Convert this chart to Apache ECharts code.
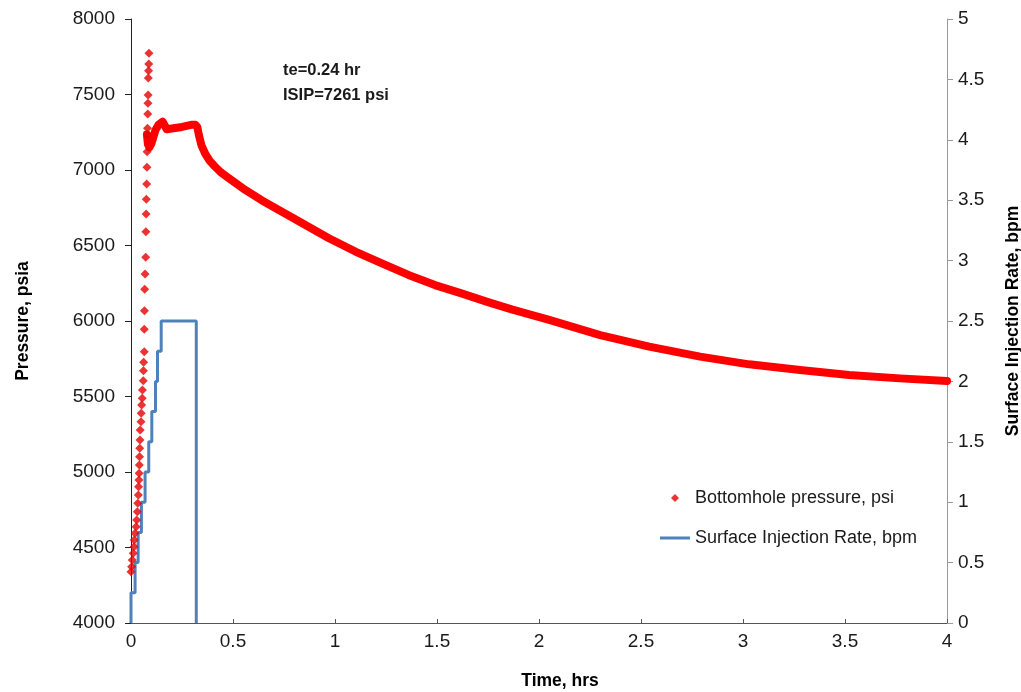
<!DOCTYPE html>
<html>
<head>
<meta charset="utf-8">
<title>Bottomhole pressure and surface injection rate</title>
<script src="https://cdn.jsdelivr.net/npm/echarts@6/dist/echarts.min.js"></script>
<style>
  html, body { margin: 0; padding: 0; background: #ffffff; overflow: hidden; }
  #chart { width: 1021px; height: 692px; }
</style>
</head>
<body>
<div id="chart"></div>
<script>
// Injection period: individual bottomhole pressure readings (hr, psi)
const rampTime = [0.000, 0.003, 0.006, 0.011, 0.015, 0.016, 0.020, 0.025, 0.028, 0.031,
                  0.033, 0.036, 0.037, 0.039, 0.040, 0.041, 0.042, 0.043, 0.044, 0.045,
                  0.049, 0.050, 0.052, 0.055, 0.056, 0.060, 0.061, 0.062, 0.065, 0.065,
                  0.066, 0.067, 0.069, 0.072, 0.073, 0.074, 0.075, 0.077, 0.078, 0.079,
                  0.080, 0.081, 0.082, 0.083, 0.084, 0.085, 0.086, 0.087, 0.088];
const rampPsi  = [4340, 4373, 4417, 4462, 4505, 4550, 4594, 4638, 4682, 4737,
                  4793, 4848, 4903, 4947, 4991, 5046, 5101, 5157, 5212, 5278,
                  5333, 5389, 5444, 5488, 5543, 5605, 5671, 5726, 5797, 5945,
                  6068, 6210, 6311, 6422, 6591, 6709, 6806, 6907, 7018, 7121,
                  7232, 7276, 7371, 7442, 7497, 7609, 7658, 7702, 7773];

// Plateau and shut-in falloff (hr, psi)
const falloffTime = [0.078, 0.083, 0.090, 0.100, 0.110, 0.120, 0.135, 0.155, 0.175, 0.200,
                     0.250, 0.300, 0.315, 0.325, 0.333, 0.345, 0.363, 0.385, 0.410, 0.440,
                     0.480, 0.560, 0.640, 0.740, 0.840, 0.970, 1.100, 1.230, 1.360, 1.490,
                     1.620, 1.750, 1.870, 2.050, 2.300, 2.540, 2.790, 3.030, 3.280, 3.520,
                     3.770, 4.000];
const falloffPsi  = [7235, 7170, 7150, 7175, 7220, 7265, 7300, 7320, 7270, 7275,
                     7285, 7300, 7300, 7285, 7230, 7165, 7110, 7062, 7025, 6985,
                     6945, 6868, 6800, 6724, 6647, 6548, 6460, 6382, 6305, 6238,
                     6183, 6125, 6075, 6007, 5907, 5830, 5764, 5713, 5675, 5642,
                     5620, 5603];

// Surface injection rate schedule: start time of each rate step (hr) and rate (bpm)
const stepStart = [0.000, 0.020, 0.035, 0.051, 0.069, 0.087, 0.102, 0.120, 0.130, 0.148];
const stepRate  = [0.25, 0.50, 0.75, 1.00, 1.25, 1.50, 1.75, 2.00, 2.25, 2.50];
const shutInTime = 0.32;

// Axis ranges: [min, max, interval]
const timeRange = [0, 4, 0.5];
const pressureRange = [4000, 8000, 500];
const rateRange = [0, 5, 0.5];

const seriesNames = ['Bottomhole pressure, psi', 'Surface Injection Rate, bpm'];
const notes = ['te=0.24 hr', 'ISIP=7261 psi'];

const pair = (xs, ys) => xs.map((x, i) => [x, ys[i]]);

// Rate schedule as a staircase polyline
const rateLine = [[stepStart[0], 0]];
stepStart.forEach((t, i) => {
  rateLine.push([t, stepRate[i]]);
  const tEnd = i + 1 < stepStart.length ? stepStart[i + 1] : shutInTime;
  rateLine.push([tEnd, stepRate[i]]);
});
rateLine.push([shutInTime, 0]);

const FONT = '"Liberation Sans", Arial, sans-serif';
const RED_DOT = '#e60000';
const RED_LINE = '#ff0000';
const BLUE = '#4f81bd';
const plain = v => String(v);

// Legend icons (kept at their own aspect ratio inside the legend item box)
const DIAMOND_ICON = 'path://M0,1L1,0L2,1L1,2Z';
const LINE_ICON = 'path://M0,0H10V1H0Z';

const chart = echarts.init(document.getElementById('chart'), null, { renderer: 'canvas' });

chart.setOption({
  animation: false,
  backgroundColor: '#ffffff',
  textStyle: { fontFamily: FONT },
  grid: { left: 131, right: 74, top: 19, bottom: 69, containLabel: false, outerBoundsMode: 'none' },
  legend: {
    left: 655,
    top: 484,
    orient: 'vertical',
    itemWidth: 30,
    itemHeight: 8,
    itemGap: 22,
    symbolKeepAspect: true,
    textStyle: { fontFamily: FONT, fontSize: 18, color: '#1a1a1a' },
    data: [
      { name: seriesNames[0], icon: DIAMOND_ICON },
      { name: seriesNames[1], icon: LINE_ICON }
    ]
  },
  xAxis: {
    type: 'value',
    min: timeRange[0], max: timeRange[1], interval: timeRange[2],
    name: 'Time, hrs',
    nameLocation: 'middle',
    nameGap: 49,
    nameTextStyle: { fontFamily: FONT, fontSize: 17.5, fontWeight: 'bold', color: '#000', padding: [0, 0, 0, 42] },
    axisLine: { show: true, lineStyle: { color: '#555', width: 1 } },
    axisTick: { show: true, inside: true, length: 4, lineStyle: { color: '#555' } },
    axisLabel: { fontFamily: FONT, fontSize: 19, color: '#1a1a1a', margin: 9, formatter: plain },
    splitLine: { show: false }
  },
  yAxis: [
    {
      type: 'value',
      position: 'left',
      min: pressureRange[0], max: pressureRange[1], interval: pressureRange[2],
      name: 'Pressure, psia',
      nameLocation: 'middle',
      nameRotate: 90,
      nameGap: 99,
      nameTextStyle: { fontFamily: FONT, fontSize: 17.5, fontWeight: 'bold', color: '#000' },
      axisLine: { show: true, lineStyle: { color: '#222', width: 1 } },
      axisTick: { show: true, inside: false, length: 6, lineStyle: { color: '#222' } },
      axisLabel: { fontFamily: FONT, fontSize: 19, color: '#1a1a1a', margin: 16, formatter: plain },
      splitLine: { show: false }
    },
    {
      type: 'value',
      position: 'right',
      min: rateRange[0], max: rateRange[1], interval: rateRange[2],
      name: 'Surface Injection Rate, bpm',
      nameLocation: 'middle',
      nameRotate: 90,
      nameGap: 57,
      nameTextStyle: { fontFamily: FONT, fontSize: 17.5, fontWeight: 'bold', color: '#000' },
      axisLine: { show: true, lineStyle: { color: '#999', width: 1 } },
      axisTick: { show: true, inside: false, length: 6, lineStyle: { color: '#999' } },
      axisLabel: { fontFamily: FONT, fontSize: 19, color: '#1a1a1a', margin: 11, formatter: plain },
      splitLine: { show: false }
    }
  ],
  graphic: [
    {
      type: 'text', left: 283, top: 62,
      style: { text: notes[0], fontFamily: FONT, fontSize: 16.5, fontWeight: 'bold', fill: '#1a1a1a' }
    },
    {
      type: 'text', left: 283, top: 87,
      style: { text: notes[1], fontFamily: FONT, fontSize: 16.5, fontWeight: 'bold', fill: '#1a1a1a' }
    }
  ],
  series: [
    {
      name: seriesNames[1],
      type: 'line',
      yAxisIndex: 1,
      data: rateLine,
      symbol: 'none',
      lineStyle: { color: BLUE, width: 3 },
      itemStyle: { color: BLUE },
      z: 2
    },
    {
      name: seriesNames[0],
      type: 'scatter',
      yAxisIndex: 0,
      data: pair(rampTime, rampPsi),
      symbol: 'diamond',
      symbolSize: 9,
      itemStyle: { color: RED_DOT },
      z: 3
    },
    {
      name: seriesNames[0],
      type: 'line',
      yAxisIndex: 0,
      data: pair(falloffTime, falloffPsi),
      symbol: 'none',
      smooth: false,
      lineStyle: { color: RED_LINE, width: 8, join: 'round', cap: 'round' },
      itemStyle: { color: RED_DOT },
      z: 3
    }
  ]
});
</script>
</body>
</html>
